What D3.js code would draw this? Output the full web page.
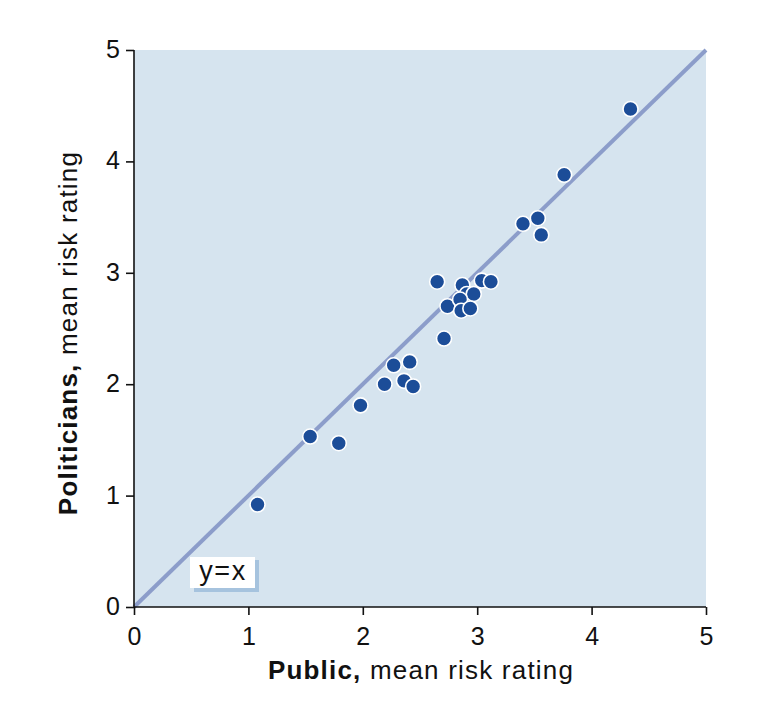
<!DOCTYPE html>
<html><head><meta charset="utf-8">
<script src="https://cdn.jsdelivr.net/npm/d3@7"></script>
<style>body{margin:0;background:#fff}svg{display:block;font-family:"Liberation Sans",Arial,Helvetica,sans-serif}</style>
</head><body>
<svg id="chart" width="764" height="716"></svg>
<script>
const publicRating = [1.08,1.54,1.79,1.98,2.19,2.27,2.36,2.41,2.44,2.65,2.71,2.74,2.87,2.91,2.97,2.85,2.86,2.94,3.04,3.12,3.40,3.53,3.56,3.76,4.34];
const politicianRating = [0.92,1.53,1.47,1.81,2.00,2.17,2.03,2.20,1.98,2.92,2.41,2.70,2.89,2.81,2.81,2.76,2.66,2.68,2.93,2.92,3.44,3.49,3.34,3.88,4.47];
const tickValues = [0,1,2,3,4,5];
const xTitleBold = "Public,", xTitleRest = " mean risk rating";
const yTitleBold = "Politicians,", yTitleRest = " mean risk rating";
const refLabel = "y=x";

const svg = d3.select("#chart");
const x = d3.scaleLinear().domain([0,5]).range([134,706]);
const y = d3.scaleLinear().domain([0,5]).range([607,50]);

svg.append("rect").attr("x",x(0)).attr("y",y(5)).attr("width",x(5)-x(0)).attr("height",y(0)-y(5)).attr("fill","#d6e4ef");

// reference line y=x
svg.append("line").attr("x1",x(0)).attr("y1",y(0)).attr("x2",x(5)).attr("y2",y(5))
  .attr("stroke","#8c9dca").attr("stroke-width",4);

// y=x label box
svg.append("rect").attr("x",x(0)+60).attr("y",y(0)-47).attr("width",65).attr("height",32).attr("fill","#a6c3de");
svg.append("rect").attr("x",x(0)+56).attr("y",y(0)-50).attr("width",65).attr("height",31).attr("fill","#ffffff");
svg.append("text").attr("x",x(0)+89).attr("y",y(0)-27).attr("text-anchor","middle").attr("font-size",27)
  .attr("letter-spacing",1.5).attr("fill","#111").text(refLabel);

// points
const pts = publicRating.map((v,i)=>({x:v,y:politicianRating[i]}));
svg.append("g").selectAll("circle").data(pts).join("circle")
  .attr("cx",d=>x(d.x)).attr("cy",d=>y(d.y)).attr("r",7.5)
  .attr("fill","#1c4d98").attr("stroke","#ffffff").attr("stroke-width",1.6);

// axes
const xAxis = d3.axisBottom(x).tickValues(tickValues).tickSize(8).tickPadding(12).tickFormat(d3.format("d"));
const yAxis = d3.axisLeft(y).tickValues(tickValues).tickSize(8).tickPadding(6).tickFormat(d3.format("d"));
const gx = svg.append("g").attr("transform",`translate(0,${y(0)})`).call(xAxis);
const gy = svg.append("g").attr("transform",`translate(${x(0)},0)`).call(yAxis);
[gx,gy].forEach(g=>{
  g.attr("font-size",25).attr("font-family","Liberation Sans, Arial, sans-serif");
  g.select(".domain").attr("stroke","#111").attr("stroke-width",1.6).attr("d", g===gx ? `M${x(0)},0H${x(5)}` : `M0,${y(5)}V${y(0)}`);
  g.selectAll(".tick line").attr("stroke","#111").attr("stroke-width",1.6);
  g.selectAll(".tick text").attr("fill","#111");
});
gy.selectAll(".tick text").attr("dy","0.3em");

// titles
const xt = svg.append("text").attr("x",421).attr("y",679).attr("text-anchor","middle").attr("font-size",26)
  .attr("letter-spacing",1.2).attr("fill","#111");
xt.append("tspan").attr("font-weight","bold").text(xTitleBold);
xt.append("tspan").text(xTitleRest);
const yt = svg.append("text").attr("transform","translate(77,333) rotate(-90)").attr("text-anchor","middle").attr("font-size",26)
  .attr("letter-spacing",1.2).attr("fill","#111");
yt.append("tspan").attr("font-weight","bold").text(yTitleBold);
yt.append("tspan").text(yTitleRest);
</script>
</body></html>
